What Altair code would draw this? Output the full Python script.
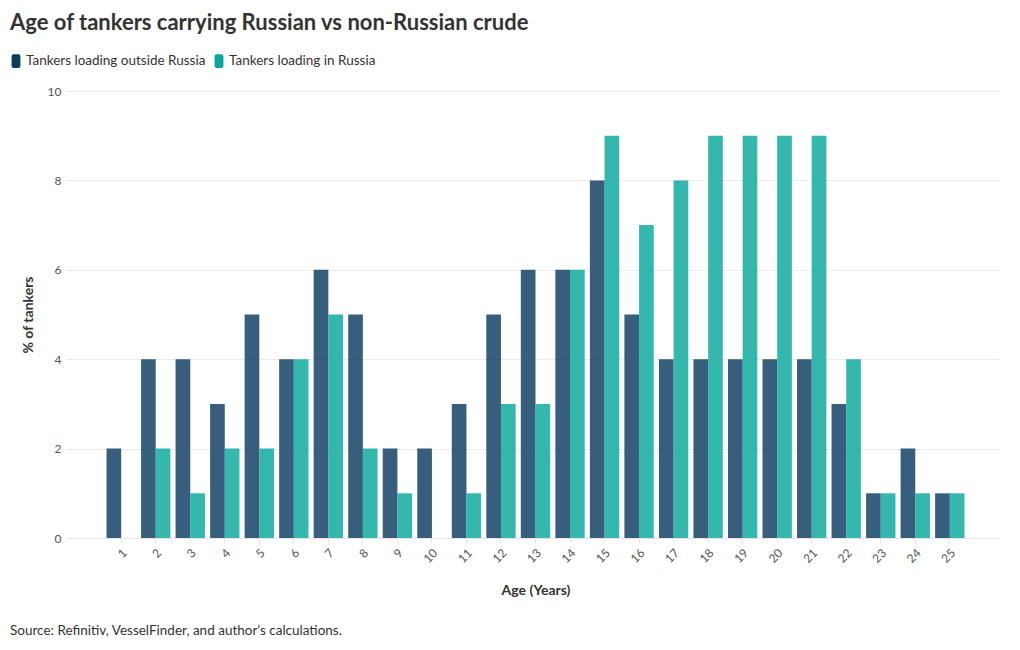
import altair as alt
import pandas as pd

ages = list(range(1, 26))
outside_russia = [2, 4, 4, 3, 5, 4, 6, 5, 2, 2, 3, 5, 6, 6, 8, 5, 4, 4, 4, 4, 4, 3, 1, 2, 1]
in_russia = [0, 2, 1, 2, 2, 4, 5, 2, 1, 0, 1, 3, 3, 6, 9, 7, 8, 9, 9, 9, 9, 4, 1, 1, 1]
series_names = ["Tankers loading outside Russia", "Tankers loading in Russia"]
series_colors = ["#0b3b5f", "#07a89c"]

rows = []
for a, o, r in zip(ages, outside_russia, in_russia):
    rows.append({"age": a, "series": series_names[0], "value": o})
    rows.append({"age": a, "series": series_names[1], "value": r})
df = pd.DataFrame(rows)

FONT = "Lato"
W, H = 927, 447

sym = ("M-0.34,-1 L0.34,-1 Q0.64,-1 0.64,-0.7 L0.64,0.7 Q0.64,1 0.34,1 "
       "L-0.34,1 Q-0.64,1 -0.64,0.7 L-0.64,-0.7 Q-0.64,-1 -0.34,-1 Z")

bars = alt.Chart(df).mark_bar(opacity=0.82).encode(
    x=alt.X("age:O", title="Age (Years)",
            scale=alt.Scale(paddingInner=0.15, paddingOuter=1),
            axis=alt.Axis(labelAngle=-45, labelFontSize=12, labelColor="#555",
                          labelFont=FONT, titleFont=FONT, titleFontSize=14,
                          titleColor="#333", titleFontWeight="bold",
                          titlePadding=19, domainColor="#e6e6e6",
                          tickColor="#e6e6e6", tickSize=5, labelPadding=4)),
    xOffset=alt.XOffset("series:N", sort=series_names,
                        scale=alt.Scale(paddingInner=0, paddingOuter=0)),
    y=alt.Y("value:Q", title="% of tankers",
            scale=alt.Scale(domain=[0, 10]),
            axis=alt.Axis(values=[0, 2, 4, 6, 8, 10], labelFontSize=12,
                          labelColor="#555", labelFont=FONT, titleFont=FONT,
                          titleFontSize=14, titleColor="#333",
                          titleFontWeight="bold", domain=False,
                          gridColor="#ebebeb", tickColor="#e6e6e6",
                          tickSize=5, titlePadding=12, labelPadding=6)),
    color=alt.Color("series:N", sort=series_names,
                    scale=alt.Scale(domain=series_names, range=series_colors),
                    legend=alt.Legend(title=None, orient="none", legendX=-64,
                                      legendY=-38, direction="horizontal",
                                      symbolType=sym, symbolSize=190,
                                      symbolOpacity=1, labelFont=FONT,
                                      labelFontSize=13.5, labelColor="#333",
                                      columnPadding=5, labelOffset=2,
                                      labelLimit=300)),
)

source = alt.Chart(pd.DataFrame({"t": ["Source: Refinitiv, VesselFinder, and author\u2019s calculations."]})).mark_text(
    align="left", baseline="middle", font=FONT, fontSize=13.5, color="#333"
).encode(x=alt.value(-62), y=alt.value(H + 93), text="t:N")

chart = alt.layer(bars, source).properties(
    width=W, height=H,
    padding={"left": 64, "top": 83, "right": 12, "bottom": 104},
    autosize=alt.AutoSizeParams(type="none"),
    title=alt.Title("Age of tankers carrying Russian vs non-Russian crude",
                    anchor="start", frame="group", dx=-62, dy=-14, font=FONT,
                    fontSize=22, fontWeight="bold", color="#333"),
).configure_view(stroke=None)

chart.save("out.html", embed_options={"renderer": "svg", "actions": False})
